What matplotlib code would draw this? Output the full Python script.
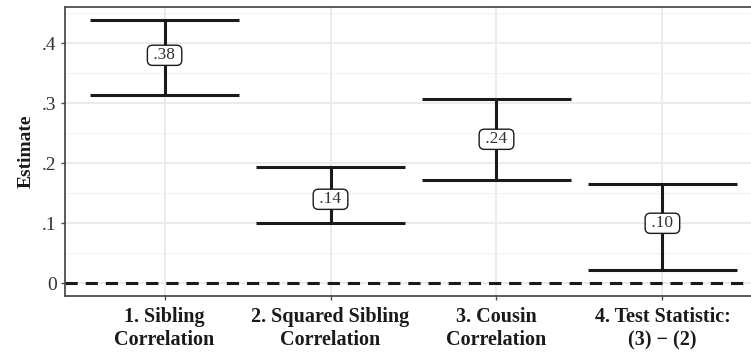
import matplotlib.pyplot as plt
import numpy as np

# Estimates with confidence bounds
categories = ["1. Sibling\nCorrelation", "2. Squared Sibling\nCorrelation",
              "3. Cousin\nCorrelation", "4. Test Statistic:\n(3) \u2212 (2)"]
estimates = [0.38, 0.14, 0.24, 0.10]
lower = [0.314, 0.100, 0.172, 0.022]
upper = [0.438, 0.194, 0.307, 0.165]
labels = [".38", ".14", ".24", ".10"]

plt.rcParams['font.family'] = ['Liberation Serif', 'DejaVu Serif']

fig = plt.figure(figsize=(7.51, 3.55), dpi=100)
# panel is cropped on the right in the reference
ax = fig.add_axes([65 / 751, (355 - 296) / 355, 697 / 751, 289 / 355])

x = np.arange(1, len(categories) + 1)
for xi, est, lo, hi, lab in zip(x, estimates, lower, upper, labels):
    ax.vlines(xi, lo, hi, color='#1a1a1a', lw=2.2, zorder=3)
    ax.hlines([lo, hi], xi - 0.45, xi + 0.45, color='#1a1a1a', lw=2.2, zorder=3)
    ax.text(xi, est, " " + lab + " ", ha='center', va='center', fontsize=12.5,
            color='#333333', zorder=4,
            bbox=dict(boxstyle='round,pad=0.12,rounding_size=0.3', facecolor='white',
                      edgecolor='#1a1a1a', lw=1.0))

ax.axhline(0, color='#1a1a1a', lw=2.2, ls=(0, (4, 2.6)), zorder=2)

ax.set_xlim(0.4, 4.6)
ax.set_ylim(-0.0212, 0.4605)
ax.set_xticks(x)
ax.set_xticklabels(categories, fontweight='bold', fontsize=14.5, color='#1a1a1a',
                   linespacing=1.2)
ax.set_yticks([0, 0.1, 0.2, 0.3, 0.4])
ax.set_yticklabels(["0", ".1", ".2", ".3", ".4"], fontsize=14, color='#333333')
ax.set_yticks([0.05, 0.15, 0.25, 0.35, 0.45], minor=True)
ax.set_ylabel("Estimate", fontweight='bold', fontsize=14, color='#1a1a1a', labelpad=5)

ax.grid(which='major', color='#ebebeb', lw=1.4, zorder=0)
ax.grid(which='minor', axis='y', color='#f2f2f2', lw=0.8, zorder=0)
ax.set_axisbelow(True)
ax.tick_params(which='major', length=3, width=1.0, color='#4d4d4d', pad=3)
ax.tick_params(axis='x', which='major', pad=5)
ax.tick_params(which='minor', length=0)
for s in ax.spines.values():
    s.set_color('#4d4d4d')
    s.set_linewidth(1.3)

fig.savefig("out.png", dpi=100)
